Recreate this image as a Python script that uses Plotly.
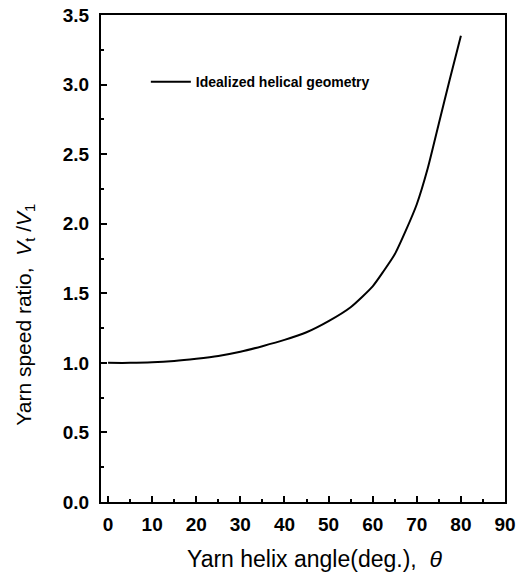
import plotly.graph_objects as go

theta = [0, 5, 10, 15, 20, 25, 30, 35, 40, 45, 50, 55, 60, 62.5, 65, 67.5, 70, 72.5, 75, 77.5, 80]
ratio = [1.0, 1.0, 1.004, 1.014, 1.03, 1.05, 1.08, 1.12, 1.165, 1.22, 1.30, 1.40, 1.55, 1.66, 1.78, 1.95, 2.14, 2.40, 2.72, 3.04, 3.35]
series_name = "Idealized helical geometry"
x_ticks = [0, 10, 20, 30, 40, 50, 60, 70, 80, 90]
y_ticks = [0.0, 0.5, 1.0, 1.5, 2.0, 2.5, 3.0, 3.5]
x_title = "Yarn helix angle(deg.),  <i>θ</i>"
y_title = "Yarn speed ratio,  <i>V</i><sub>t</sub> /<i>V</i><sub>1</sub>"

fig = go.Figure()
fig.add_trace(go.Scatter(x=theta, y=ratio, mode="lines", name=series_name,
                         line=dict(color="black", width=2, shape="spline", smoothing=0.6)))

font_family = "Liberation Sans, Arial, sans-serif"
fig.update_layout(
    width=517, height=572,
    margin=dict(l=101, r=12, t=15, b=70),
    paper_bgcolor="white", plot_bgcolor="white",
    font=dict(family=font_family, color="black"),
    showlegend=True,
    legend=dict(x=0.111, y=0.862, xanchor="left", yanchor="middle",
                bgcolor="rgba(0,0,0,0)", font=dict(size=14, family=font_family, weight="bold"),
                itemwidth=40),
    annotations=[
        dict(text=y_title, textangle=-90, xref="paper", yref="paper",
             x=-0.19, y=0.385, xanchor="center", yanchor="middle", showarrow=False,
             font=dict(size=21, family=font_family)),
        dict(text=x_title, xref="paper", yref="paper",
             x=0.53, y=-0.117, xanchor="center", yanchor="middle", showarrow=False,
             font=dict(size=23, family=font_family)),
    ],
)
fig.update_xaxes(
    range=[-1.6, 90], tickvals=x_ticks, ticktext=[str(v) for v in x_ticks],
    ticks="inside", ticklen=6, tickwidth=2, tickcolor="black",
    minor=dict(dtick=5, tick0=0, ticks="inside", ticklen=3, tickwidth=2, tickcolor="black"),
    showline=True, linewidth=2, linecolor="black", mirror=True,
    showgrid=False, zeroline=False, automargin=False,
    tickfont=dict(size=19, family=font_family, weight="bold"),
    ticklabelstandoff=4,
)
fig.update_yaxes(
    range=[0, 3.5], tickvals=y_ticks, ticktext=[f"{v:.1f}" for v in y_ticks],
    ticks="inside", ticklen=6, tickwidth=2, tickcolor="black",
    minor=dict(dtick=0.25, tick0=0, ticks="inside", ticklen=3, tickwidth=2, tickcolor="black"),
    showline=True, linewidth=2, linecolor="black", mirror=True,
    showgrid=False, zeroline=False, automargin=False,
    tickfont=dict(size=19, family=font_family, weight="bold"),
    ticklabelstandoff=6,
)

fig.write_html("out.html")
